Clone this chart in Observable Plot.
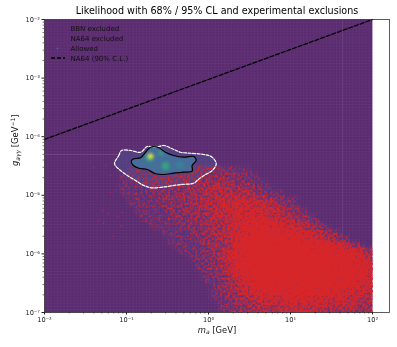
<!DOCTYPE html>
<html><head><meta charset="utf-8">
<script src="https://cdn.jsdelivr.net/npm/d3@7"></script>
<script src="https://cdn.jsdelivr.net/npm/@observablehq/plot@0.6"></script>
<style>html,body{margin:0;padding:0;background:#fff}svg{display:block}</style>
</head><body><div id="chart"></div>
<svg width="0" height="0" style="position:absolute">
  <filter id="grain" x="0" y="0" width="100%" height="100%" color-interpolation-filters="sRGB">
    <feTurbulence type="fractalNoise" baseFrequency="0.4" numOctaves="2" seed="4" result="t"/>
    <feColorMatrix in="t" type="matrix" values="0 0 0 0 0  0 0 0 0 0  0 0 0 0 0  1 0 0 0 0" result="n"/>
    <feComposite in="SourceGraphic" in2="n" operator="arithmetic" k1="0" k2="1.4" k3="2.4" k4="-1.15" result="m"/>
    <feComponentTransfer in="SourceGraphic" result="mask"><feFuncA type="linear" slope="8" intercept="0"/></feComponentTransfer>
    <feComposite in="m" in2="mask" operator="in" result="a"/>
    <feGaussianBlur in="a" stdDeviation="0.35" result="b"/>
    <feFlood flood-color="#d62629" result="f"/>
    <feComposite in="f" in2="b" operator="in"/>
  </filter>
</svg>
<script>
const titleText = "Likelihood with 68% / 95% CL and experimental exclusions";
const legendNames = ["BBN excluded","NA64 excluded","Allowed","NA64 (90% C.L.)"];
const xMajor = [1e-2,1e-1,1e0,1e1,1e2];
const yMajor = [1e-7,1e-6,1e-5,1e-4,1e-3,1e-2];
const supers = {"-7":"10⁻⁷","-6":"10⁻⁶","-5":"10⁻⁵","-4":"10⁻⁴","-3":"10⁻³","-2":"10⁻²","-1":"10⁻¹","0":"10⁰","1":"10¹","2":"10²"};
const minorFactors = [2,3,4,5,6,7,8,9];

// red exclusion density, read by eye: rows from log g = -4.5 down to -7, columns from log m = -1.2 to 2
const densityRows = [
"00111111222222211000000000000000",
"01111222222222221100000000000000",
"01112222223333322110000000000000",
"01112222233344433211000000000000",
"01111222233444444321100000000000",
"00111122333445555443211000000000",
"00111122233445566555321000000000",
"00011112233445666665532100000000",
"00011112223345566665543210000000",
"00001111222344567776655421000000",
"00000111122334567887766543100000",
"00000011112334567898877665320000",
"00000001112234578999988776532000",
"00000001111233478999999988876310",
"00000000111234579999999999988763",
"00000000011224679999999999998875",
"00000000001223579999999999999886",
"00000000001123479999999999999887",
"00000000000123468999999999998886",
"00000000000112357899999999988876",
"00000000000012346789999998888766",
"00000000000012345678888888777665",
"00000000000011234566677776666554",
"00000000000001233455566666555544",
"00000000000001223344455555444433"];
const sparseLogM = [-1.40,-1.256,-1.195,-1.195,-1.134,-1.05,-1.01,-1.29,-1.22,-1.11,-1.34,-1.16,-1.28,-1.05,-1.07];
const sparseLogG = [-4.526,-4.49,-4.66,-4.95,-4.92,-4.95,-5.05,-5.26,-5.31,-5.36,-5.43,-5.70,-5.48,-5.29,-5.52];

const ci95LogM = [-1.146,-1.094,-1.061,-.951,-.829,-.748,-.646,-.545,-.443,-.341,-.220,-.057,.045,.094,.045,-.057,-.138,-.179,-.341,-.504,-.687,-.789,-.890,-.991,-1.073];
const ci95LogG = [-4.462,-4.321,-4.235,-4.235,-4.265,-4.167,-4.179,-4.150,-4.206,-4.265,-4.282,-4.304,-4.350,-4.462,-4.577,-4.662,-4.747,-4.794,-4.816,-4.850,-4.872,-4.833,-4.747,-4.662,-4.577];
const ci68LogM = [-.943,-.911,-.829,-.768,-.707,-.606,-.524,-.423,-.301,-.179,-.150,-.199,-.199,-.301,-.423,-.545,-.646,-.748,-.850,-.918];
const ci68LogG = [-4.418,-4.377,-4.360,-4.265,-4.179,-4.189,-4.265,-4.321,-4.350,-4.338,-4.406,-4.491,-4.589,-4.606,-4.623,-4.645,-4.633,-4.560,-4.538,-4.491];

const peakLogM = [-.72,-.524,-.35,-.58,-.707,-.707];
const peakLogG = [-4.36,-4.50,-4.48,-4.28,-4.333,-4.333];
const peakR = [7,7,7,4,4.2,2.6];
const peakColor = ["#2f9e8c","#35a283","#3a7f9b","#3d9090","#a8d552","#f0d83c"];

const limitM = [1e-2,1e2];
const limitG = [9e-5,1e-2];
const toRows = (X,Y) => X.map((v,i)=>({x:10**v,y:10**Y[i]}));

const cells = [];
const nR = densityRows.length, nC = densityRows[0].length;
for (let r=-1;r<=nR;r++) for (let k=0;k<=nC;k++) {
  const row = densityRows[Math.min(Math.max(r,0),nR-1)];
  const v = r<0 ? 0 : +row[Math.min(k,nC-1)];
  cells.push({x:10**(-1.15+0.1*k), y:10**(-4.55-0.1*r), v});
}
[[1e-2,1e-2,0],[1e-2,10**-7.2,0],[1e-2,1e-5,0],[300,1e-2,0]].forEach(([x,y,v])=>cells.push({x,y,v}));
const minor = ds => ds.flatMap(d=>minorFactors.map(f=>d*f));

const texX = d3.range(-2,2,0.04).map(v=>10**v);
const texY = d3.range(-7,-2,0.05).map(v=>10**v);
const FONT = "DejaVu Sans";
const fmt = d => supers[Math.round(Math.log10(d))];
const raster = {x:"x",y:"y",x1:1e-2,x2:1e2,y1:1e-7,y2:1e-2,pixelSize:1,interpolate:"barycentric"};

const chart = Plot.plot({
  width:397, height:347, marginLeft:44, marginRight:8, marginTop:19, marginBottom:35,
  style:{fontFamily:FONT, background:"#fff", filter:"blur(0.3px)"},
  x:{type:"log", domain:[1e-2,161]},
  y:{type:"log", domain:[1e-7,1e-2]},
  color:{type:"linear", domain:[0,1,3,9], range:["#5b2b70","#52307f","#4c3285","#6a2f70"]},
  marks:[
    Plot.raster(cells,{...raster,fill:"v"}),
    Plot.gridX(texX,{stroke:"#fff",strokeOpacity:0.035,strokeWidth:1,y1:1e-7,y2:1e-2}),
    Plot.gridY(texY,{stroke:"#fff",strokeOpacity:0.035,strokeWidth:1,x1:1e-2,x2:1e2}),
    Plot.ruleY([5e-5],{x1:1e-2,x2:0.08,stroke:"#fff",strokeOpacity:0.12,strokeWidth:1}),
    Plot.ruleX([43],{y1:1e-7,y2:1e-2,stroke:"#fff",strokeOpacity:0.08,strokeWidth:1}),
    Plot.ruleX([1e2],{y1:1e-7,y2:1e-2,stroke:"#fff",strokeOpacity:0.25,strokeWidth:1}),
    Plot.line(toRows(ci95LogM,ci95LogG),{x:"x",y:"y",curve:"catmull-rom-closed",fill:"#4a5a98",fillOpacity:0.4,stroke:"none"}),
    Plot.raster(cells,{...raster,fill:"#d62629",fillOpacity:d=>d.v/9,imageFilter:"url(#grain)"}),
    Plot.dot(toRows(sparseLogM,sparseLogG),{x:"x",y:"y",r:0.9,fill:"#b02a58",fillOpacity:0.7}),
    Plot.line(toRows(ci68LogM,ci68LogG),{x:"x",y:"y",curve:"catmull-rom-closed",fill:"#44749c",fillOpacity:0.9,stroke:"none",imageFilter:"blur(1px)"}),
    Plot.dot(peakLogM.map((v,i)=>({x:10**v,y:10**peakLogG[i],r:peakR[i],c:peakColor[i]})),{x:"x",y:"y",r:"r",fill:d=>d.c,imageFilter:"blur(1.6px)"}),
    Plot.line(toRows(ci95LogM,ci95LogG),{x:"x",y:"y",curve:"catmull-rom-closed",stroke:"#fff",strokeWidth:1.2,strokeDasharray:"3,1.5"}),
    Plot.line(toRows(ci68LogM,ci68LogG),{x:"x",y:"y",curve:"catmull-rom-closed",stroke:"#000",strokeWidth:1.2}),
    Plot.line(limitM.map((m,i)=>({x:m,y:limitG[i]})),{x:"x",y:"y",stroke:"#000",strokeWidth:1.3,strokeDasharray:"4,2"}),
    Plot.frame({stroke:"#333",strokeWidth:0.8}),
    Plot.axisX(xMajor,{anchor:"bottom",tickSize:2.5,tickPadding:2,tickFormat:fmt,fontSize:6.6,label:null,color:"#222"}),
    Plot.axisX(minor(xMajor.slice(0,4)).filter(v=>v<161),{anchor:"bottom",tickSize:1.5,tickFormat:()=>"",label:null,stroke:"#222",strokeWidth:0.6}),
    Plot.axisY(yMajor,{anchor:"left",tickSize:2.5,tickPadding:2,tickFormat:fmt,fontSize:6.6,label:null,color:"#222"}),
    Plot.axisY(minor(yMajor.slice(0,5)),{anchor:"left",tickSize:1.5,tickFormat:()=>"",label:null,stroke:"#222",strokeWidth:0.6}),
    Plot.text([titleText],{frameAnchor:"top",dy:-9,fontSize:9.6,fill:"#000",lineAnchor:"middle"}),
    Plot.text(["m-label"],{frameAnchor:"bottom",dy:20,fontSize:8.4,fill:"#111"}),
    Plot.text(["g-label"],{frameAnchor:"left",dx:-29,rotate:-90,fontSize:8.4,fill:"#111"}),
    ...legendNames.map((name,i)=>Plot.text([name],{frameAnchor:"top-left",dx:26,dy:9+i*10,textAnchor:"start",fontSize:7,fill:"#111",lineAnchor:"middle"})),
    Plot.dot([0],{frameAnchor:"top-left",dx:13,dy:9,r:1,fill:"#7a2a60"}),
    Plot.dot([0],{frameAnchor:"top-left",dx:13,dy:19,r:1,fill:"#7a2a60"}),
    Plot.dot([0],{frameAnchor:"top-left",dx:13,dy:29,r:1,fill:"#3b6ea5"}),
    (index,scales,values,dims)=>d3.create("svg:line").attr("x1",dims.marginLeft+7).attr("x2",dims.marginLeft+21).attr("y1",dims.marginTop+39).attr("y2",dims.marginTop+39).attr("stroke","#000").attr("stroke-width",1.3).attr("stroke-dasharray","4,2").node()
  ]
});
document.getElementById("chart").append(chart);
d3.select(chart).selectAll("text").each(function(){
  const t = this.textContent;
  if (t==="m-label"||t==="g-label") {
    const s = this.querySelector("tspan")||this;
    s.textContent="";
    const add=(txt,o={})=>{const e=document.createElementNS("http://www.w3.org/2000/svg","tspan");e.textContent=txt;for(const k in o)e.setAttribute(k,o[k]);s.append(e);};
    if(t==="m-label"){add("m",{"font-style":"italic"});add("a",{"font-style":"italic","font-size":6,dy:1.5});add(" [GeV]",{dy:-1.5});}
    else{add("g",{"font-style":"italic"});add("aγγ",{"font-style":"italic","font-size":6,dy:1.5});add(" [GeV",{dy:-1.5});add("−1",{"font-size":6,dy:-3});add("]",{dy:3});}
  }
});
</script></body></html>
